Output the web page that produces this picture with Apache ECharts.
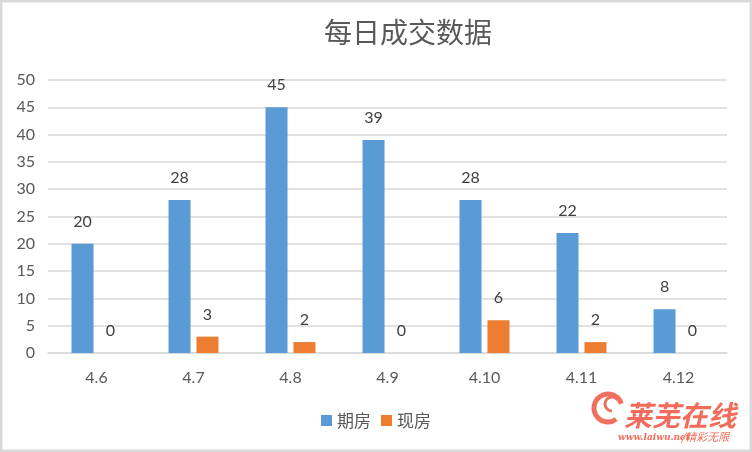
<!DOCTYPE html>
<html><head><meta charset="utf-8">
<script src="https://cdn.jsdelivr.net/npm/echarts@6/dist/echarts.min.js"></script>
<style>html,body{margin:0;padding:0;background:#fff}#c{width:752px;height:452px}</style>
</head><body><div id="c"></div>
<script>
const titleText = '每日成交数据';
const categories = ['4.6','4.7','4.8','4.9','4.10','4.11','4.12'];
const seriesNames = ['期房','现房'];
const futureHousing = [20,28,45,39,28,22,8];
const spotHousing = [0,3,2,0,6,2,0];
const yTicks = {min:0,max:50,interval:5};

const FONT = "Lato, 'Noto Sans CJK SC', sans-serif";
const chart = echarts.init(document.getElementById('c'));
const labelCfg = {show:true, position:'top', distance:14, color:'#404040', fontSize:16, fontFamily:FONT};
chart.setOption({
  animation:false,
  title:{text:titleText, left:319, top:13, textStyle:{fontSize:28, fontWeight:'normal', color:'#595959', fontFamily:"'Noto Sans CJK SC', sans-serif"}},
  legend:{bottom:18, left:'center', itemWidth:11, itemHeight:11, itemGap:10, icon:'rect',
    textStyle:{fontSize:17, color:'#595959', fontFamily:"'Noto Sans CJK SC', sans-serif"}, data:seriesNames},
  grid:{left:48, right:25, top:80, bottom:99, containLabel:false},
  xAxis:{type:'category', data:categories,
    axisLine:{lineStyle:{color:'#d9d9d9', width:1.5}}, axisTick:{show:false},
    axisLabel:{color:'#595959', fontSize:16, margin:17, fontFamily:FONT}},
  yAxis:{type:'value', min:yTicks.min, max:yTicks.max, interval:yTicks.interval,
    axisLine:{show:false}, axisTick:{show:false},
    splitLine:{lineStyle:{color:'#d9d9d9', width:1.5}},
    axisLabel:{color:'#595959', fontSize:16, margin:13, fontFamily:FONT}},
  series:[
    {name:seriesNames[0], type:'bar', data:futureHousing, barWidth:22, barGap:'27%', itemStyle:{color:'#5b9bd5'}, label:labelCfg},
    {name:seriesNames[1], type:'bar', data:spotHousing, barWidth:22, itemStyle:{color:'#ed7d31'}, label:labelCfg}
  ],
  graphic:[
    {type:'rect', shape:{x:0,y:0,width:752,height:452}, style:{fill:'none', stroke:'#d9d9d9', lineWidth:5}, silent:true},
    {type:'arc', shape:{cx:608, cy:408, r:14, startAngle:Math.PI*0.3, endAngle:Math.PI*1.9}, style:{stroke:'#f07060', lineWidth:5, fill:'none'}, silent:true},
    {type:'arc', shape:{cx:612, cy:404, r:7, startAngle:Math.PI*0.5, endAngle:Math.PI*1.8}, style:{stroke:'#f07060', lineWidth:3, fill:'none'}, silent:true},
    {type:'text', left:624, top:401, style:{text:'莱芜在线', fill:'#f26b5b', font:"italic bold 28px 'Noto Sans CJK SC'"}, silent:true},
    {type:'text', left:618, top:433, style:{text:'www.laiwu.net', fill:'#f26b5b', font:"italic bold 9px 'DejaVu Serif'"}, silent:true},
    {type:'text', left:681, top:431, style:{text:'/精彩无限', fill:'#f26b5b', font:"italic 11px 'Noto Sans CJK SC'"}, silent:true}
  ]
});
</script></body></html>
